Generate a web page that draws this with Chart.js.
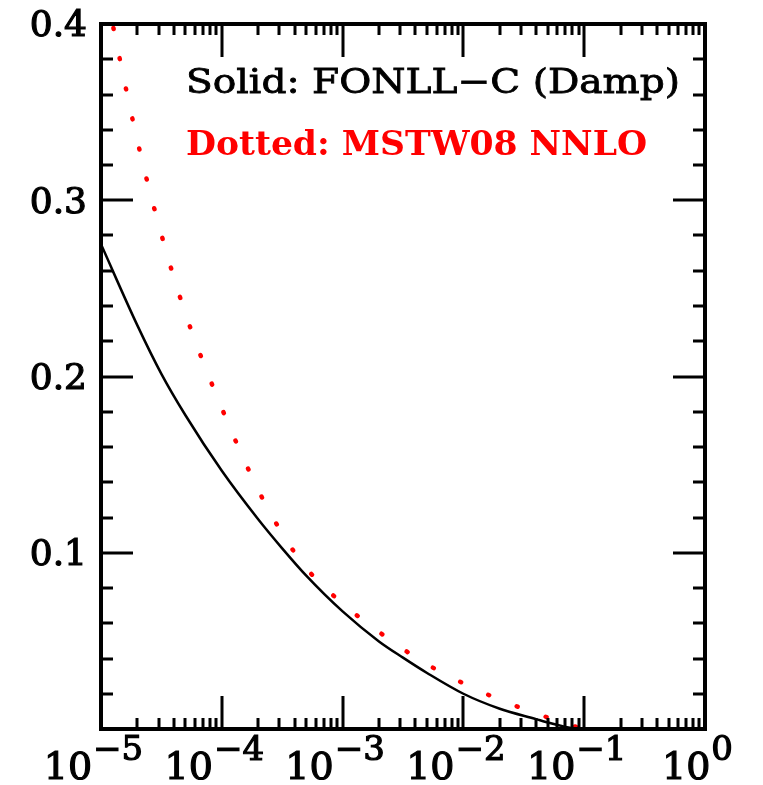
<!DOCTYPE html>
<html>
<head>
<meta charset="utf-8">
<script src="https://cdn.jsdelivr.net/npm/chart.js@4.4.0/dist/chart.umd.min.js"></script>
<style>
  body { margin: 0; background: #fff; }
</style>
</head>
<body>
<canvas id="myChart" width="763" height="785"></canvas>
<script>
// data (x is log scale)
const xSolid = [1e-5, 2e-5, 3.16e-5, 5e-5, 1e-4, 2e-4, 3.16e-4, 5e-4, 1e-3, 2e-3, 3.16e-3, 5e-3, 1e-2, 2e-2, 4e-2, 5.2e-2, 7e-2, 8.5e-2];
const ySolid = [0.275, 0.229, 0.2015, 0.178, 0.1465, 0.119, 0.1025, 0.087, 0.0667, 0.0497, 0.0405, 0.0318, 0.020, 0.0115, 0.0056, 0.0034, 0.0012, 0.0];
const xDotted = [1e-5, 2e-5, 3.16e-5, 5e-5, 1e-4, 2e-4, 3.16e-4, 5e-4, 1e-3, 2e-3, 3.16e-3, 5e-3, 1e-2, 2e-2, 3.16e-2, 5e-2, 6.8e-2, 1e-1];
const yDotted = [0.432, 0.3338, 0.2806, 0.2357, 0.182, 0.1357, 0.111, 0.0913, 0.0711, 0.0551, 0.0454, 0.0367, 0.0259, 0.0166, 0.0114, 0.0065, 0.0032, 0.0];

const yTickLabels = ["0.1", "0.2", "0.3", "0.4"];
const xTickExponents = ["\u22125", "\u22124", "\u22123", "\u22122", "\u22121", "0"];
const solidLabel = "Solid: FONLL\u2212C (Damp)";
const dottedLabel = "Dotted: MSTW08 NNLO";

const toPoints = (xs, ys) => xs.map((x, i) => ({ x: x, y: ys[i] }));

// text stretched to a given width, optional thin stroke for weight
const drawWide = (ctx, text, x0, y, width, stroke) => {
  const w = ctx.measureText(text).width;
  ctx.save();
  ctx.translate(x0, y);
  ctx.scale(width / w, 1);
  ctx.textAlign = "left";
  ctx.fillText(text, 0, 0);
  if (stroke) ctx.strokeText(text, 0, 0);
  ctx.restore();
};

// frame, inward ticks on all sides, tick labels, text
const framePlugin = {
  id: "frame",
  afterDatasetsDraw(chart) {
    const ctx = chart.ctx;
    const a = chart.chartArea;
    const xs = chart.scales.x;
    const ys = chart.scales.y;
    ctx.save();
    ctx.strokeStyle = "#000";
    ctx.lineCap = "butt";

    // y ticks, every 0.02, major every 0.1
    ctx.lineWidth = 3;
    for (let k = 1; k < 20; k++) {
      const v = k * 0.02;
      const py = Math.round(ys.getPixelForValue(v));
      const len = k % 5 === 0 ? 32 : 12;
      ctx.beginPath();
      ctx.moveTo(a.left, py); ctx.lineTo(a.left + len, py);
      ctx.moveTo(a.right, py); ctx.lineTo(a.right - len, py);
      ctx.stroke();
    }
    // x ticks, decades and 2..9
    for (let d = -5; d <= 0; d++) {
      for (let m = 1; m <= 9; m++) {
        const v = m * Math.pow(10, d);
        if (v > 1.0001) break;
        const px = Math.round(xs.getPixelForValue(v));
        const len = m === 1 ? 33 : 11;
        ctx.beginPath();
        ctx.moveTo(px, a.bottom); ctx.lineTo(px, a.bottom - len);
        ctx.moveTo(px, a.top); ctx.lineTo(px, a.top + len);
        ctx.stroke();
      }
    }
    // frame
    ctx.lineWidth = 4;
    ctx.strokeRect(a.left, a.top, a.right - a.left, a.bottom - a.top);

    // y labels
    ctx.fillStyle = "#000";
    ctx.lineWidth = 1.2;
    ctx.font = "36px 'DejaVu Serif'";
    ctx.textAlign = "right";
    ctx.textBaseline = "middle";
    yTickLabels.forEach((t) => {
      const py = ys.getPixelForValue(parseFloat(t)) + 3;
      ctx.fillText(t, 87, py);
      ctx.strokeText(t, 87, py);
    });

    // x labels 10^n
    ctx.textAlign = "left";
    ctx.textBaseline = "alphabetic";
    xTickExponents.forEach((e, i) => {
      const px = xs.getPixelForValue(Math.pow(10, i - 5));
      ctx.font = "38px 'DejaVu Serif'";
      const wb = ctx.measureText("10").width;
      ctx.font = "34px 'DejaVu Serif'";
      const we = ctx.measureText(e).width;
      const x0 = px - 8 - (wb + we) / 2;
      ctx.font = "38px 'DejaVu Serif'";
      ctx.fillText("10", x0, 779);
      ctx.strokeText("10", x0, 779);
      ctx.font = "34px 'DejaVu Serif'";
      ctx.fillText(e, x0 + wb + 1, 760);
      ctx.strokeText(e, x0 + wb + 1, 760);
    });

    // curve labels
    ctx.font = "34px 'DejaVu Serif'";
    ctx.fillStyle = "#000";
    ctx.lineWidth = 0.8;
    drawWide(ctx, solidLabel, 186, 93, 494, true);
    ctx.font = "bold 33px 'DejaVu Serif'";
    ctx.fillStyle = "#ff0000";
    drawWide(ctx, dottedLabel, 186, 155, 461, false);
    ctx.restore();
  },
};

const ctx = document.getElementById("myChart").getContext("2d");
const myChart = new Chart(ctx, {
  type: "line",
  data: {
    datasets: [
      {
        label: "FONLL-C (Damp)",
        data: toPoints(xSolid, ySolid),
        borderColor: "#000",
        borderWidth: 2.5,
        pointRadius: 0,
        cubicInterpolationMode: "monotone",
        clip: 0,
      },
      {
        label: "MSTW08 NNLO",
        data: toPoints(xDotted, yDotted),
        borderColor: "#ff0000",
        borderWidth: 4.5,
        borderDash: [1, 29.8],
        borderCapStyle: "round",
        pointRadius: 0,
        cubicInterpolationMode: "monotone",
        clip: 0,
      },
    ],
  },
  options: {
    responsive: false,
    animation: false,
    layout: { padding: { left: 101, right: 58, top: 24, bottom: 56 } },
    plugins: { legend: { display: false }, tooltip: { enabled: false } },
    scales: {
      x: { type: "logarithmic", min: 1e-5, max: 1, display: false },
      y: { type: "linear", min: 0, max: 0.4, display: false },
    },
  },
  plugins: [framePlugin],
});
</script>
</body>
</html>
